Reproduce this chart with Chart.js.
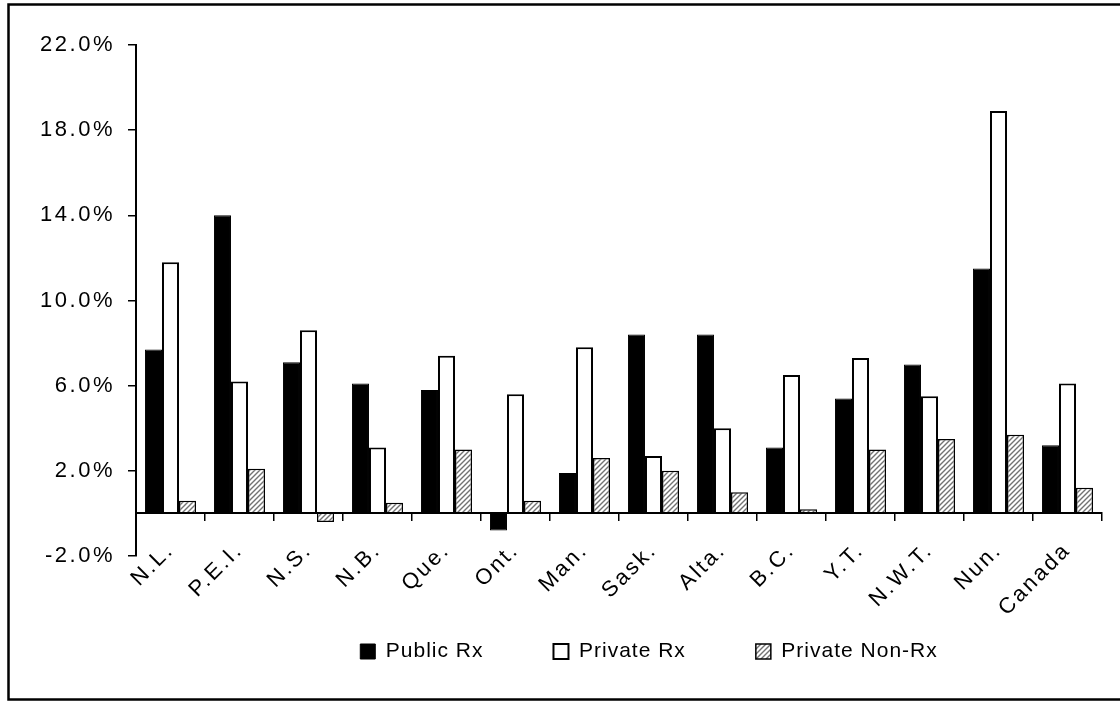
<!DOCTYPE html>
<html>
<head>
<meta charset="utf-8">
<script src="https://cdn.jsdelivr.net/npm/chart.js@4"></script>
<style>
  html, body { margin: 0; padding: 0; background: #fff; }
  #wrap { width: 1120px; height: 702px; }
</style>
</head>
<body>
<div id="wrap"><canvas id="growthChart" width="1120" height="702"></canvas></div>
<script>
    // categories and values (annual growth, %)
    const categories = ['N.L.', 'P.E.I.', 'N.S.', 'N.B.', 'Que.', 'Ont.', 'Man.', 'Sask.', 'Alta.', 'B.C.', 'Y.T.', 'N.W.T.', 'Nun.', 'Canada'];
    const publicRx = [7.7, 14.0, 7.1, 6.1, 5.8, -0.8, 1.9, 8.4, 8.4, 3.1, 5.4, 7.0, 11.5, 3.2];
    const privateRx = [11.8, 6.2, 8.6, 3.1, 7.4, 5.6, 7.8, 2.7, 4.0, 6.5, 7.3, 5.5, 18.9, 6.1];
    const privateNonRx = [0.6, 2.1, -0.4, 0.5, 3.0, 0.6, 2.6, 2.0, 1.0, 0.2, 3.0, 3.5, 3.7, 1.2];
    const yTicks = [-2, 2, 6, 10, 14, 18, 22];

    const FONT = "'Liberation Sans', Arial, sans-serif";

    // diagonal hatch for Private Non-Rx
    function makeHatch() {
        const s = 5;
        const c = document.createElement('canvas');
        c.width = s; c.height = s;
        const g = c.getContext('2d');
        g.fillStyle = '#ffffff';
        g.fillRect(0, 0, s, s);
        g.strokeStyle = '#737373';
        g.lineWidth = 1.4;
        g.beginPath();
        g.moveTo(-1, s + 1); g.lineTo(s + 1, -1);
        g.moveTo(-1, 1); g.lineTo(1, -1);
        g.moveTo(s - 1, s + 1); g.lineTo(s + 1, s - 1);
        g.stroke();
        return g.createPattern(c, 'repeat');
    }

    // letter spacing for texts + outer frame
    const framePlugin = {
        id: 'frame',
        beforeLayout(chart) { chart.ctx.letterSpacing = '1px'; },
        afterLayout(chart) {
            // legend sits right of centre in the original
            const dx = 98;
            chart.legend.left += dx;
            chart.legend.right += dx;
        },
        beforeDraw(chart) { chart.ctx.letterSpacing = '1px'; },
        afterDatasetsDraw(chart) { chart.ctx.letterSpacing = '2.5px'; },
        afterDraw(chart) {
            const ctx = chart.ctx;
            ctx.save();
            ctx.letterSpacing = '0px';
            ctx.strokeStyle = '#000';
            ctx.lineWidth = 2.5;
            ctx.strokeRect(8.5, 4.5, 1125, 695);
            ctx.restore();
            ctx.letterSpacing = '0px';
        }
    };

    const data = {
        labels: categories,
        datasets: [
            {
                label: 'Public Rx',
                data: publicRx,
                xAxisID: 'x',
                backgroundColor: '#000000',
                borderColor: '#000000',
                borderWidth: 1
            },
            {
                label: 'Private Rx',
                data: privateRx,
                xAxisID: 'x',
                backgroundColor: '#ffffff',
                borderColor: '#000000',
                borderWidth: 2
            },
            {
                label: 'Private Non-Rx',
                data: privateNonRx,
                xAxisID: 'x',
                backgroundColor: makeHatch(),
                borderColor: '#000000',
                borderWidth: 1.5
            }
        ]
    };

    const config = {
        type: 'bar',
        data: data,
        plugins: [framePlugin],
        options: {
            responsive: false,
            animation: false,
            devicePixelRatio: 1,
            categoryPercentage: 0.74,
            barPercentage: 1.0,
            layout: { padding: { top: 45, right: 18, bottom: 30, left: 0 } },
            plugins: {
                tooltip: { enabled: false },
                legend: {
                    position: 'bottom',
                    labels: {
                        color: '#000',
                        font: { family: FONT, size: 21 },
                        boxWidth: 15,
                        boxHeight: 15,
                        padding: 70
                    }
                }
            },
            scales: {
                x: {
                    type: 'category',
                    position: { y: 0 },
                    offset: true,
                    grid: {
                        display: true,
                        offset: true,
                        drawOnChartArea: false,
                        drawTicks: true,
                        tickLength: 7,
                        color: '#000',
                        lineWidth: 1.5
                    },
                    border: { display: true, color: '#000', width: 2, z: 1 },
                    ticks: {
                        z: 1,
                        autoSkip: false,
                        minRotation: 45,
                        maxRotation: 45,
                        padding: 17,
                        color: '#000',
                        font: { family: FONT, size: 22 }
                    }
                },
                x2: {
                    type: 'category',
                    position: 'bottom',
                    display: true,
                    grid: { display: false },
                    border: { display: false },
                    ticks: { display: false },
                    afterFit(s) { s.height = 15; }
                },
                y: {
                    min: -2,
                    max: 22,
                    afterBuildTicks(s) { s.ticks = yTicks.map(v => ({ value: v })); },
                    afterFit(s) { s.width = 136; },
                    grid: {
                        drawOnChartArea: false,
                        drawTicks: true,
                        tickLength: 8,
                        color: '#000',
                        lineWidth: 1.5
                    },
                    border: { display: true, color: '#000', width: 2 },
                    ticks: {
                        z: 1,
                        padding: 13,
                        color: '#000',
                        font: { family: FONT, size: 22 },
                        callback: v => v.toFixed(1) + '%'
                    }
                }
            }
        }
    };

    new Chart(document.getElementById('growthChart'), config);
</script>
</body>
</html>
